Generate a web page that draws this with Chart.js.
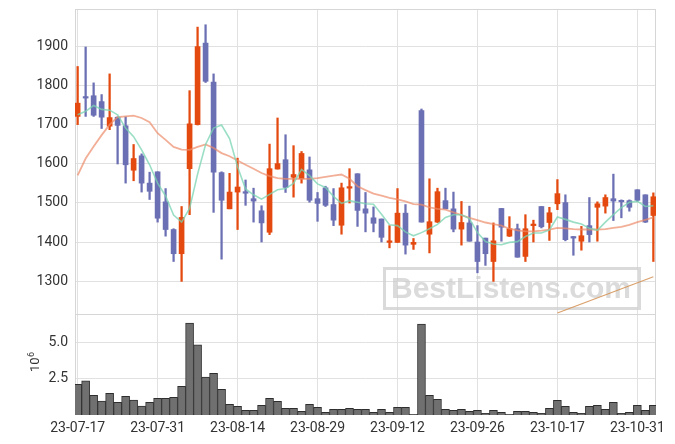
<!DOCTYPE html>
<html><head><meta charset="utf-8">
<script src="https://cdn.jsdelivr.net/npm/chart.js@4"></script>
<style>html,body{margin:0;padding:0;background:#fff}#wrap{position:relative;width:675px;height:444px}</style>
</head><body><div id="wrap"><canvas id="c" width="675" height="444"></canvas></div>
<script>
const dates = ['23-07-17','23-07-18','23-07-19','23-07-20','23-07-21','23-07-24','23-07-25','23-07-26','23-07-27','23-07-28',
'23-07-31','23-08-01','23-08-02','23-08-03','23-08-04','23-08-07','23-08-08','23-08-09','23-08-10','23-08-11',
'23-08-14','23-08-16','23-08-17','23-08-18','23-08-21','23-08-22','23-08-23','23-08-24','23-08-25','23-08-28',
'23-08-29','23-08-30','23-08-31','23-09-01','23-09-04','23-09-05','23-09-06','23-09-07','23-09-08','23-09-11',
'23-09-12','23-09-13','23-09-14','23-09-15','23-09-18','23-09-19','23-09-20','23-09-21','23-09-22','23-09-25',
'23-09-26','23-09-27','23-10-04','23-10-05','23-10-06','23-10-10','23-10-11','23-10-12','23-10-13','23-10-16',
'23-10-17','23-10-18','23-10-19','23-10-20','23-10-23','23-10-24','23-10-25','23-10-26','23-10-27','23-10-30',
'23-10-31','23-11-01','23-11-02'];
const opens  = [1722,1771,1775,1760,1697,1720,1698,1584,1621,1551,1580,1503,1432,1370,1588,1701,1910,1810,1578,1485,
1528,1529,1511,1480,1425,1587,1611,1566,1562,1585,1511,1539,1496,1443,1538,1575,1485,1462,1459,1399,
1399,1474,1394,1737,1420,1451,1506,1485,1433,1449,1400,1410,1350,1486,1415,1434,1363,1442,1491,1450,
1498,1501,1414,1402,1442,1489,1492,1511,1506,1506,1534,1521,1468];
const highs  = [1850,1900,1808,1778,1831,1721,1721,1650,1626,1579,1580,1537,1434,1491,1788,1951,1957,1831,1580,1576,
1615,1559,1538,1493,1651,1718,1675,1647,1632,1618,1527,1543,1537,1551,1588,1575,1527,1490,1459,1442,
1537,1496,1409,1741,1562,1538,1538,1528,1504,1492,1442,1410,1449,1486,1465,1446,1470,1456,1491,1489,
1560,1521,1414,1440,1514,1503,1521,1574,1508,1508,1534,1521,1526];
const lows   = [1701,1722,1722,1691,1688,1600,1551,1557,1528,1509,1451,1415,1350,1299,1470,1700,1809,1476,1356,1485,
1432,1494,1451,1400,1419,1587,1527,1515,1551,1502,1453,1491,1442,1420,1500,1440,1426,1426,1400,1385,
1399,1369,1381,1451,1372,1450,1485,1426,1392,1402,1321,1340,1299,1402,1414,1361,1350,1400,1436,1404,
1483,1403,1366,1379,1400,1402,1474,1455,1462,1479,1504,1450,1350];
const closes = [1756,1769,1725,1720,1719,1699,1598,1614,1551,1530,1461,1432,1370,1463,1703,1901,1812,1579,1507,1528,
1541,1525,1505,1449,1588,1601,1540,1573,1627,1507,1499,1494,1456,1539,1542,1481,1474,1448,1412,1403,
1474,1392,1399,1451,1452,1529,1485,1433,1450,1402,1350,1370,1403,1438,1434,1361,1434,1446,1439,1475,
1524,1406,1410,1416,1419,1498,1514,1505,1503,1489,1507,1451,1516];
const ma5    = [1726,1735,1750,1740,1738,1726,1692,1670,1636,1598,1551,1518,1469,1451,1486,1574,1650,1692,1700,1665,
1593,1536,1521,1510,1522,1534,1537,1550,1586,1570,1549,1540,1517,1499,1506,1502,1498,1497,1471,1444,
1442,1426,1416,1424,1434,1445,1463,1470,1470,1460,1424,1401,1395,1393,1399,1401,1414,1423,1423,1431,
1464,1458,1451,1446,1435,1430,1451,1470,1488,1502,1504,1491,1493];
const ma20   = [1571,1614,1645,1674,1701,1720,1722,1724,1718,1707,1679,1662,1644,1637,1636,1644,1650,1641,1628,1620,
1609,1598,1588,1577,1569,1564,1562,1562,1562,1562,1564,1567,1570,1573,1562,1543,1533,1524,1519,1513,
1509,1504,1497,1496,1489,1485,1483,1476,1469,1462,1456,1450,1446,1442,1434,1430,1427,1427,1429,1432,
1436,1435,1433,1432,1432,1432,1433,1436,1439,1444,1451,1457,1463];
const volumes = [2.13,2.36,1.37,0.97,1.50,0.88,1.30,1.04,0.62,0.88,1.16,1.16,1.23,1.99,6.37,4.86,2.62,2.89,1.78,0.74,
0.60,0.32,0.32,0.67,1.16,0.95,0.46,0.46,0.25,0.74,0.53,0.19,0.39,0.39,0.46,0.39,0.39,0.19,0.39,0.19,
0.53,0.53,0.05,6.30,1.37,1.09,0.39,0.32,0.39,0.25,0.32,0.12,0.32,0.19,0.05,0.25,0.25,0.19,0.12,0.46,
1.02,0.60,0.19,0.12,0.60,0.67,0.39,0.88,0.12,0.19,0.67,0.32,0.67];
const trendIdx = [60, 72];
const trendVal = [1218, 1311];
const priceTicks = [1300,1400,1500,1600,1700,1800,1900];
const volTicks = [2.5, 5.0];
const dateTickIdx = [0,10,20,30,40,50,60,70];

const UP = '#e4490f', DOWN = '#6b6fb3';
const candleColors = opens.map((o,i)=> closes[i] >= o ? UP : DOWN);
const GRID = '#e1e1e1';
const FONT = {family:'Roboto', size:14};
const TXT = '#333';

const noPad = s => { s.paddingTop = 0; s.paddingBottom = 0; s.paddingLeft = 0; s.paddingRight = 0; };

const decor = {
  id:'decor',
  beforeDatasetsDraw(chart){
    const c = chart.ctx, a = chart.chartArea, yb = chart.scales.y.bottom;
    c.save();
    c.strokeStyle = '#d6d6d6'; c.lineWidth = 1;
    c.strokeRect(Math.round(a.left)+0.5, Math.round(a.top)+0.5, Math.round(a.right-a.left)-1, Math.round(a.bottom-a.top)-1);
    c.beginPath(); c.moveTo(a.left, Math.round(yb)+0.5); c.lineTo(a.right, Math.round(yb)+0.5); c.stroke();
    c.strokeStyle = 'rgba(205,205,205,0.75)'; c.lineWidth = 3;
    c.strokeRect(384.5, 268.5, 255, 40);
    c.font = 'bold 30px "Liberation Sans", Arial, sans-serif';
    c.textAlign = 'center'; c.textBaseline = 'middle';
    c.fillStyle = 'rgba(200,200,200,0.65)';
    c.fillText('BestListens.com', 511, 290);
    c.restore();
  },
  afterDraw(chart){
    const c = chart.ctx;
    c.save();
    c.translate(39, 372); c.rotate(-Math.PI/2);
    c.fillStyle = TXT; c.textAlign = 'left'; c.textBaseline = 'alphabetic';
    c.font = '13px Roboto';
    c.fillText('10', 0, 0);
    const w = c.measureText('10').width;
    c.font = '9px Roboto';
    c.fillText('6', w + 0.5, -5);
    c.restore();
  }
};

new Chart(document.getElementById('c'), {
  type: 'bar',
  data: { datasets: [
    { type:'line', data: ma5.map((v,i)=>({x:i,y:v})), yAxisID:'y', borderColor:'rgba(120,212,178,0.75)', borderWidth:1.6, pointRadius:0, tension:0, order:0 },
    { type:'line', data: ma20.map((v,i)=>({x:i,y:v})), yAxisID:'y', borderColor:'rgba(236,140,105,0.7)', borderWidth:1.8, pointRadius:0, tension:0, order:0 },
    { type:'line', data: trendIdx.map((v,i)=>({x:v,y:trendVal[i]})), yAxisID:'y', borderColor:'rgba(214,150,90,0.9)', borderWidth:1.2, pointRadius:0, order:0 },
    { data: highs.map((h,i)=>({x:i,y:[lows[i],h]})), yAxisID:'y', backgroundColor:candleColors, barThickness:1.6, grouped:false, order:2 },
    { data: opens.map((o,i)=>({x:i,y:[o,closes[i]]})), yAxisID:'y', backgroundColor:candleColors, barThickness:5, minBarLength:1.5, grouped:false, order:1 },
    { data: volumes.map((v,i)=>({x:i,y:v})), yAxisID:'yv', backgroundColor:'#707070', borderColor:'#2e2e2e', borderWidth:1, barPercentage:1, categoryPercentage:1, grouped:false, order:3 }
  ]},
  options: {
    responsive:false, animation:false, devicePixelRatio:1,
    layout:{ padding:{ top:9, right:19, left:0, bottom:0 } },
    plugins:{ legend:{display:false}, tooltip:{enabled:false} },
    scales:{
      x:{ type:'linear', min:-0.33, max:72.33, offset:false,
          afterBuildTicks:s=>{ s.ticks = dateTickIdx.map(v=>({value:v})); },
          afterFit:s=>{ s.height = 29; noPad(s); },
          ticks:{ callback:v=>dates[v], font:FONT, color:TXT, padding:5, maxRotation:0, autoSkip:false },
          grid:{ color:GRID, drawTicks:false, offset:false }, border:{display:false} },
      y:{ type:'linear', position:'left', stack:'s', stackWeight:305, weight:2, min:1215.4, max:1997.4,
          afterBuildTicks:s=>{ s.ticks = priceTicks.map(v=>({value:v})); },
          afterFit:s=>{ s.width = 75; noPad(s); },
          ticks:{ font:FONT, color:TXT, padding:7, callback:v=>String(v) },
          grid:{ color:GRID, drawTicks:false }, border:{display:false} },
      yv:{ type:'linear', position:'left', stack:'s', stackWeight:101, weight:1, min:0, max:7,
          afterBuildTicks:s=>{ s.ticks = volTicks.map(v=>({value:v})); },
          afterFit:s=>{ s.width = 75; noPad(s); },
          ticks:{ font:FONT, color:TXT, padding:7, callback:v=>v.toFixed(1) },
          grid:{ color:GRID, drawTicks:false }, border:{display:false} }
    }
  },
  plugins:[decor]
});
</script></body></html>
